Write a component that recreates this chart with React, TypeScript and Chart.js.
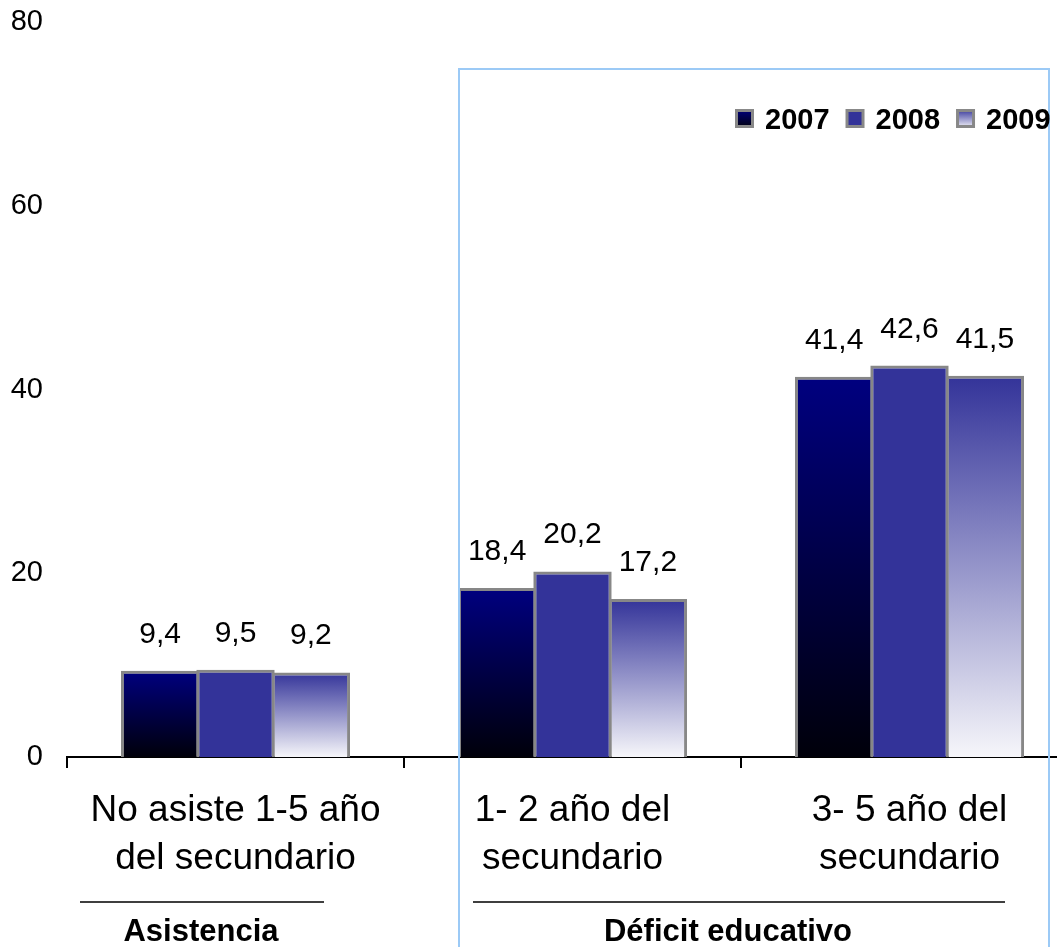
import React, { useEffect, useRef } from "react";
import { Chart, registerables } from "chart.js";

Chart.register(...registerables);

// ---- data ----
const categories: string[][] = [
  ["No asiste 1-5 año", "del secundario"],
  ["1- 2 año del", "secundario"],
  ["3- 5 año del", "secundario"],
];
const seriesNames = ["2007", "2008", "2009"];
const values2007 = [9.4, 18.4, 41.4];
const values2008 = [9.5, 20.2, 42.6];
const values2009 = [9.2, 17.2, 41.5];
const yTicks = [0, 20, 40, 60, 80];
const groupLabels = ["Asistencia", "Déficit educativo"];

// ---- styling ----
const FONT = "'Liberation Sans', Arial, Helvetica, sans-serif";
const CANVAS_W = 1100;
const CANVAS_H = 947;

type Stops = [number, string][];
const fills: Stops[] = [
  [
    [0, "#000080"],
    [1, "#00000a"],
  ],
  [
    [0, "#333399"],
    [1, "#333399"],
  ],
  [
    [0, "#333399"],
    [1, "#f6f6fa"],
  ],
];

const fmt = (v: number) => v.toFixed(1).replace(".", ",");

const makeBg = (di: number) => (ctx: any) => {
  const chart = ctx.chart;
  if (!chart.chartArea || ctx.type !== "data" || typeof ctx.raw !== "number") {
    return fills[di][0][1];
  }
  const y = chart.scales.y;
  const top = y.getPixelForValue(ctx.raw);
  const base = y.getPixelForValue(0);
  const g = chart.ctx.createLinearGradient(0, top, 0, base);
  fills[di].forEach(([o, c]) => g.addColorStop(o, c));
  return g;
};

const decorPlugin = {
  id: "decor",
  afterDatasetsDraw(chart: any) {
    const ctx = chart.ctx as CanvasRenderingContext2D;
    ctx.save();
    ctx.font = `30px ${FONT}`;
    ctx.fillStyle = "#000";
    ctx.textAlign = "center";
    ctx.textBaseline = "alphabetic";
    chart.data.datasets.forEach((ds: any, di: number) => {
      const meta = chart.getDatasetMeta(di);
      meta.data.forEach((bar: any, i: number) => {
        ctx.fillText(fmt(ds.data[i]), bar.x, bar.y - 28);
      });
    });
    ctx.restore();
  },
  afterDraw(chart: any) {
    const ctx = chart.ctx as CanvasRenderingContext2D;
    ctx.save();

    // light blue frame around the "Déficit educativo" section
    ctx.strokeStyle = "#9ccaf6";
    ctx.lineWidth = 2;
    ctx.beginPath();
    ctx.moveTo(459, CANVAS_H + 10);
    ctx.lineTo(459, 69);
    ctx.lineTo(1049, 69);
    ctx.lineTo(1049, CANVAS_H + 10);
    ctx.stroke();

    // legend
    ctx.font = `bold 29px ${FONT}`;
    ctx.textBaseline = "alphabetic";
    ctx.textAlign = "left";
    let x = 735;
    const sq = 19;
    const sy = 109;
    seriesNames.forEach((name, di) => {
      const g = ctx.createLinearGradient(0, sy, 0, sy + sq);
      fills[di].forEach(([o, c]) => g.addColorStop(o, c));
      ctx.fillStyle = "#888888";
      ctx.fillRect(x, sy, sq, sq);
      ctx.fillStyle = g;
      ctx.fillRect(x + 3, sy + 3, sq - 6, sq - 6);
      ctx.fillStyle = "#000";
      ctx.fillText(name, x + 30, 129);
      x = x + 30 + ctx.measureText(name).width + 16;
    });

    // group separators and labels
    ctx.strokeStyle = "#000";
    ctx.lineWidth = 1.5;
    ctx.beginPath();
    ctx.moveTo(80, 902);
    ctx.lineTo(324, 902);
    ctx.moveTo(473, 902);
    ctx.lineTo(1005, 902);
    ctx.stroke();
    ctx.font = `bold 31px ${FONT}`;
    ctx.textAlign = "center";
    ctx.fillStyle = "#000";
    ctx.fillText(groupLabels[0], 201, 941);
    ctx.fillText(groupLabels[1], 728, 941);

    ctx.restore();
  },
};

export default function App() {
  const ref = useRef<HTMLCanvasElement | null>(null);

  useEffect(() => {
    if (!ref.current) return;
    Chart.defaults.font.family = FONT;
    const seriesValues = [values2007, values2008, values2009];
    const chart = new Chart(ref.current, {
      type: "bar",
      data: {
        labels: categories,
        datasets: seriesNames.map((name, di) => ({
          label: name,
          data: seriesValues[di],
          backgroundColor: makeBg(di),
          borderColor: "#878787",
          borderWidth: 3,
          borderSkipped: "start",
          categoryPercentage: 0.671,
          barPercentage: 1.04,
        })),
      },
      options: {
        responsive: false,
        animation: false,
        events: [],
        layout: { padding: { top: 22, left: 0, right: CANVAS_W - 1078, bottom: 0 } },
        plugins: {
          legend: { display: false },
          tooltip: { enabled: false },
          title: { display: false },
        },
        scales: {
          x: {
            offset: true,
            grid: {
              display: true,
              offset: true,
              drawOnChartArea: false,
              drawTicks: true,
              tickLength: 11,
              color: "#000",
              lineWidth: 2,
            },
            border: { display: true, color: "#000", width: 2 },
            ticks: {
              color: "#000",
              font: { size: 37, lineHeight: 1.32 },
              padding: 18,
              maxRotation: 0,
              minRotation: 0,
              autoSkip: false,
            },
            afterFit: (scale: any) => {
              scale.height = CANVAS_H - 757;
            },
          },
          y: {
            min: 0,
            max: 80,
            afterBuildTicks: (scale: any) => {
              scale.ticks = yTicks.map((v) => ({ value: v }));
            },
            grid: { display: false, drawTicks: false },
            border: { display: false },
            ticks: {
              color: "#000",
              font: { size: 29 },
              padding: 24,
            },
            afterFit: (scale: any) => {
              scale.width = 67;
              scale.paddingTop = 0;
              scale.paddingBottom = 0;
            },
          },
        },
      },
      plugins: [decorPlugin],
    });
    return () => chart.destroy();
  }, []);

  return (
    <div
      style={{
        position: "fixed",
        left: 0,
        top: 0,
        width: 1057,
        height: CANVAS_H,
        overflow: "hidden",
        background: "#fff",
      }}
    >
      <canvas
        ref={ref}
        width={CANVAS_W}
        height={CANVAS_H}
        style={{ width: CANVAS_W, height: CANVAS_H, display: "block" }}
      />
    </div>
  );
}
